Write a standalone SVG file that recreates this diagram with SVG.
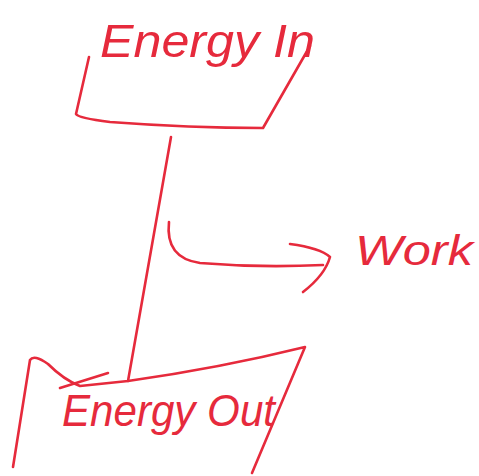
<svg xmlns="http://www.w3.org/2000/svg" width="479" height="476" viewBox="0 0 479 476">
<style>
.ink{fill:none;stroke:#e62a3c;stroke-width:2.6;stroke-linecap:round;stroke-linejoin:round}
.lbl{font-family:"Liberation Sans",Arial,sans-serif;font-style:italic;fill:#e62a3c}
</style>
<rect width="479" height="476" fill="#ffffff"/>
<g id="energy-in">
<path class="ink" d="M89 57 L76 114 Q78 118 110 122 Q190 128 263 128 L310 46"/>
<text class="lbl" x="100" y="57" font-size="46" textLength="215" lengthAdjust="spacingAndGlyphs">Energy In</text>
</g>
<g id="work">
<text class="lbl" x="355" y="265" font-size="42" textLength="118" lengthAdjust="spacingAndGlyphs">Work</text>
</g>
<g id="energy-out">
<path class="ink" d="M13 467 L30 360 Q34 354 48 364 Q64 380 80 386 L128 381 Q220 368 305 347 L252 473"/>
<path class="ink" d="M60 388 L108 373"/>
<text class="lbl" x="62" y="426" font-size="44" textLength="213" lengthAdjust="spacingAndGlyphs">Energy Out</text>
</g>
<g id="connectors">
<path class="ink" d="M171 137 L128 381"/>
<path class="ink" d="M169 222 Q165 258 200 263 Q260 268 323 265"/>
<path class="ink" d="M290 244 Q320 248 330 257 Q325 275 303 292"/>
</g>
</svg>
